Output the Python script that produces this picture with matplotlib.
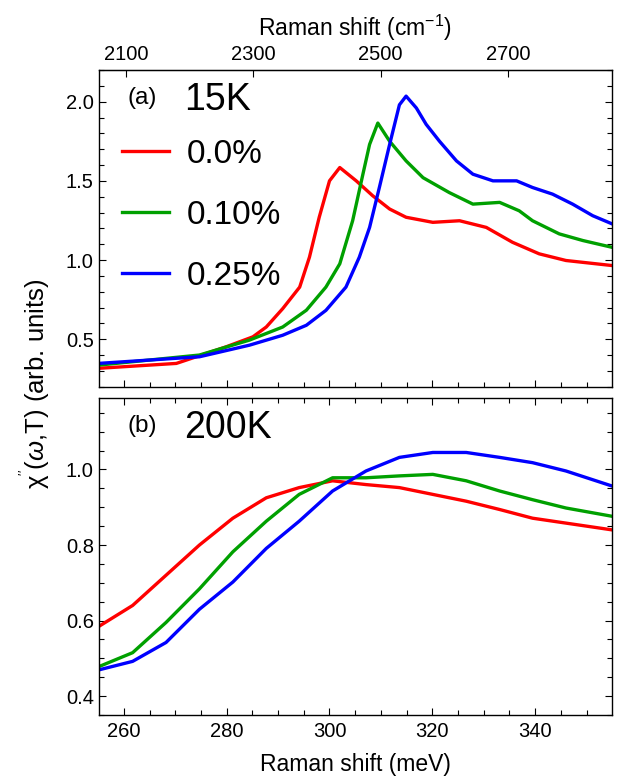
import numpy as np
import matplotlib
matplotlib.use("Agg")
import matplotlib.pyplot as plt
from matplotlib.ticker import MultipleLocator, FixedLocator

plt.rcParams['font.family'] = ['Liberation Sans', 'DejaVu Sans']
plt.rcParams['mathtext.fontset'] = 'custom'
plt.rcParams['mathtext.rm'] = 'Liberation Sans'
plt.rcParams['mathtext.it'] = 'Liberation Sans:italic'

labels = ["0.0%", "0.10%", "0.25%"]
colors = ["#ff0000", "#00a000", "#0000ff"]

# Panel (a) 15K
x15_red = [255.0, 270.2, 279.9, 285.1, 287.7, 290.9, 294.2, 296.1, 298.0, 300.0, 302.0,
           305.2, 308.4, 311.7, 314.9, 320.1, 325.3, 330.5, 335.6, 340.8, 346.0, 355.0]
y15_red = [0.316, 0.347, 0.452, 0.515, 0.577, 0.693, 0.829, 1.018, 1.27, 1.50, 1.584,
           1.50, 1.406, 1.322, 1.27, 1.238, 1.248, 1.206, 1.112, 1.039, 0.997, 0.965]
x15_green = [255.0, 274.7, 284.4, 290.9, 295.5, 299.3, 302.0, 304.5, 306.5, 307.8, 309.4,
             311.7, 314.9, 318.2, 323.3, 327.9, 333.1, 336.9, 339.5, 344.7, 349.3, 355.0]
y15_green = [0.336, 0.40, 0.494, 0.577, 0.683, 0.829, 0.976, 1.248, 1.542, 1.73, 1.865,
             1.75, 1.626, 1.52, 1.426, 1.353, 1.364, 1.311, 1.248, 1.165, 1.123, 1.08]
x15_blue = [255.0, 274.7, 284.4, 290.9, 295.5, 299.3, 303.2, 305.8, 307.8, 309.7, 311.7,
            313.6, 314.9, 316.9, 318.8, 321.4, 324.7, 327.9, 331.8, 336.4, 339.5, 343.4,
            347.3, 351.2, 355.0]
y15_blue = [0.347, 0.389, 0.462, 0.525, 0.588, 0.682, 0.829, 1.018, 1.206, 1.458, 1.73,
            1.98, 2.035, 1.96, 1.857, 1.75, 1.626, 1.542, 1.50, 1.50, 1.458, 1.416,
            1.353, 1.28, 1.228]

# Panel (b) 200K
x200 = [255.3, 261.7, 268.2, 274.7, 281.2, 287.7, 294.1, 300.6, 307.1, 313.6, 320.1,
        326.6, 333.1, 339.5, 346.0, 355.0]
y200_red = [0.586, 0.64, 0.72, 0.80, 0.871, 0.925, 0.952, 0.97, 0.96, 0.952, 0.934,
            0.916, 0.894, 0.871, 0.858, 0.84]
y200_green = [0.479, 0.515, 0.595, 0.684, 0.782, 0.863, 0.934, 0.978, 0.978, 0.983, 0.987,
              0.97, 0.943, 0.92, 0.898, 0.876]
y200_blue = [0.47, 0.492, 0.542, 0.63, 0.702, 0.791, 0.863, 0.943, 0.996, 1.032, 1.045,
             1.045, 1.032, 1.018, 0.996, 0.956]

top_ticks = [2100, 2300, 2500, 2700]
CM_PER_MEV = 8.0655

W, H = 620, 781
fig = plt.figure(figsize=(W / 100, H / 100), dpi=100)
L, R = 98.7 / W, 611.7 / W
ax1 = fig.add_axes([L, 1 - 386.7 / H, R - L, (386.7 - 70) / H])
ax2 = fig.add_axes([L, 1 - 715 / H, R - L, (715 - 397.7) / H])

lw = 2.4
ax1.plot(x15_red, y15_red, color=colors[0], lw=lw, label=labels[0])
ax1.plot(x15_green, y15_green, color=colors[1], lw=lw, label=labels[1])
ax1.plot(x15_blue, y15_blue, color=colors[2], lw=lw, label=labels[2])

ax2.plot(x200, y200_red, color=colors[0], lw=lw)
ax2.plot(x200, y200_green, color=colors[1], lw=lw)
ax2.plot(x200, y200_blue, color=colors[2], lw=lw)

TL = 14.5
for ax in (ax1, ax2):
    ax.set_xlim(255.1, 354.9)
    ax.xaxis.set_major_locator(MultipleLocator(20))
    ax.xaxis.set_minor_locator(MultipleLocator(5))
    ax.tick_params(which='both', direction='in', right=True, labelsize=TL, width=0.8)
    ax.tick_params(which='major', length=5)
    ax.tick_params(which='minor', length=3.5)
    for s in ax.spines.values():
        s.set_linewidth(1.0)

ax1.set_ylim(0.2, 2.2)
ax1.yaxis.set_major_locator(MultipleLocator(0.5))
ax1.yaxis.set_minor_locator(MultipleLocator(0.1))
ax1.tick_params(axis='x', which='both', labelbottom=False, top=False)
ax1.yaxis.set_major_formatter(matplotlib.ticker.FormatStrFormatter('%.1f'))

ax2.set_ylim(0.35, 1.19)
ax2.yaxis.set_major_locator(MultipleLocator(0.2))
ax2.yaxis.set_minor_locator(MultipleLocator(0.05))
ax2.tick_params(axis='x', which='both', top=True, pad=5)
ax2.yaxis.set_major_formatter(matplotlib.ticker.FormatStrFormatter('%.1f'))
ax2.set_xlabel("Raman shift (meV)", fontsize=16.5, labelpad=9)

sec = ax1.secondary_xaxis('top', functions=(lambda m: m * CM_PER_MEV, lambda c: c / CM_PER_MEV))
sec.xaxis.set_major_locator(FixedLocator(top_ticks))
sec.tick_params(direction='in', length=5, width=0.8, labelsize=TL, pad=4)
sec.set_xlabel("Raman shift (cm$^{-1}$)", fontsize=16.5, labelpad=7)

ax1.text(0.057, 0.912, "(a)", transform=ax1.transAxes, fontsize=17.5, va='center', ha='left')
ax1.text(0.166, 0.905, "15K", transform=ax1.transAxes, fontsize=27, va='center', ha='left')
ax2.text(0.057, 0.912, "(b)", transform=ax2.transAxes, fontsize=17.5, va='center', ha='left')
ax2.text(0.166, 0.905, "200K", transform=ax2.transAxes, fontsize=27, va='center', ha='left')

ax1.legend(loc='upper left', bbox_to_anchor=(0.046, 0.783), frameon=False, fontsize=24,
           handlelength=1.41, handletextpad=0.52, labelspacing=0.9, borderpad=0,
           borderaxespad=0)

fig.text(35 / W, 1 - 384 / H, "χ" + r"$^{''}$" + r"($\omega$,T) (arb. units)", rotation=90,
         fontsize=18.5, ha='center', va='center')

fig.savefig("out.png", dpi=100)
